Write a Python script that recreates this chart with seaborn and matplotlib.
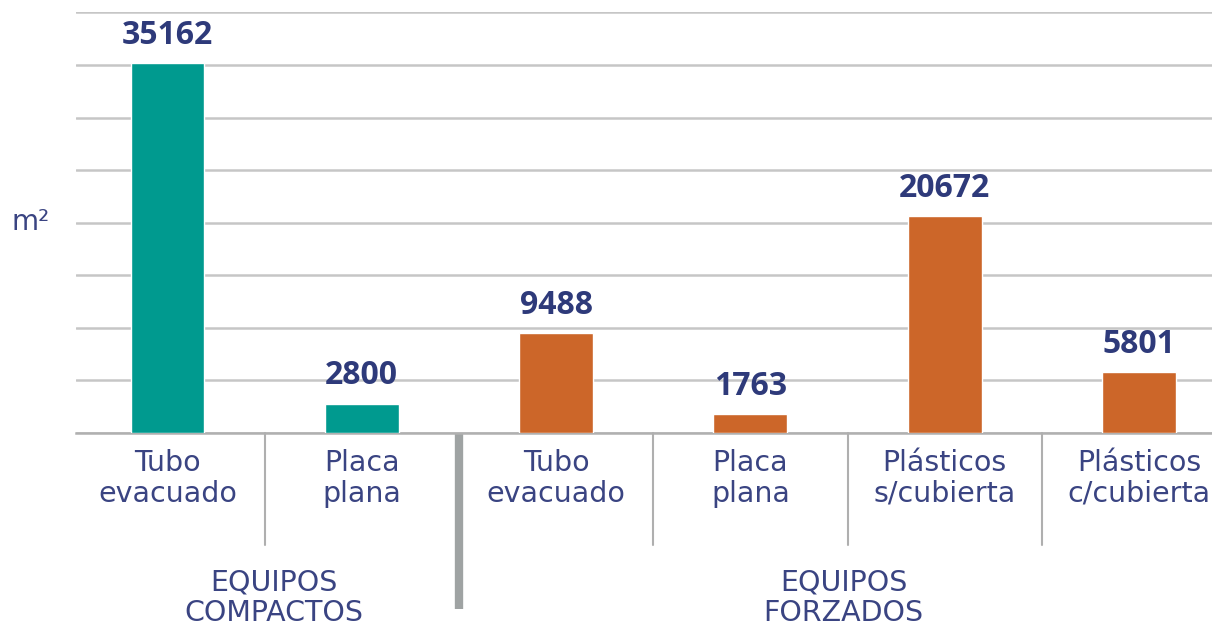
import matplotlib
matplotlib.use("Agg")
import matplotlib.pyplot as plt
import matplotlib.transforms as mtransforms
import seaborn as sns
import pandas as pd

# ---- data ----
categories = ["Tubo\nevacuado", "Placa\nplana", "Tubo\nevacuado", "Placa\nplana",
              "Plásticos\ns/cubierta", "Plásticos\nc/cubierta"]
values = [35162, 2800, 9488, 1763, 20672, 5801]
groups = ["EQUIPOS\nCOMPACTOS", "EQUIPOS\nCOMPACTOS", "EQUIPOS\nFORZADOS", "EQUIPOS\nFORZADOS",
          "EQUIPOS\nFORZADOS", "EQUIPOS\nFORZADOS"]
group_labels = ["EQUIPOS\nCOMPACTOS", "EQUIPOS\nFORZADOS"]
y_unit = "m²"

teal = "#009A8F"
orange = "#CC6629"
navy = "#2E3A7A"
label_col = "#3A4482"
grid_col = "#C6C6C6"

sns.set_theme(style="white")
plt.rcParams['font.family'] = ['DejaVu Sans']

W, H = 1212, 631
fig = plt.figure(figsize=(W / 100, H / 100), dpi=100)
ax_left, ax_right = 76, 1212
ax_top, ax_bottom = 12.5, 433
ax = fig.add_axes([ax_left / W, (H - ax_bottom) / H, (ax_right - ax_left) / W, (ax_bottom - ax_top) / H])

df = pd.DataFrame({"key": [f"c{i}" for i in range(len(values))],
                   "value": values, "group": groups})
sns.barplot(data=df, x="key", y="value", hue="group", dodge=False,
            palette={group_labels[0]: teal, group_labels[1]: orange},
            width=0.38, saturation=1, legend=False, ax=ax, zorder=3)

ax.set_xlim(-0.471, 5.376)
ax.set_ylim(0, 40000)
ax.set_yticks(range(0, 40001, 5000))
ax.set_yticklabels([])
ax.tick_params(left=False, bottom=False, labelbottom=False)
ax.yaxis.grid(True, color=grid_col, lw=1.8, zorder=0)
ax.xaxis.grid(False)
ax.set_xlabel("")
ax.set_ylabel("")
for s in ["top", "right", "left"]:
    ax.spines[s].set_visible(False)
ax.spines["bottom"].set_color("#B0B0B0")
ax.spines["bottom"].set_linewidth(1.8)
ax.set_facecolor("white")

# value labels
for i, v in enumerate(values):
    ax.annotate(f"{v}", (i, v), xytext=(0, 8), textcoords="offset points",
                ha="center", va="bottom", fontsize=23, fontweight="bold",
                color=navy, family=["Open Sans", "DejaVu Sans"])

trans = mtransforms.blended_transform_factory(ax.transData, ax.transAxes)
px = 1.0 / (ax_bottom - ax_top)

# category labels
for i, c in enumerate(categories):
    ax.text(i, -16 * px, c, transform=trans, ha="center", va="top",
            fontsize=20.5, color=label_col, linespacing=1.13)

# separators
for xs in [0.5, 2.5, 3.5, 4.5]:
    ax.plot([xs, xs], [0, -(545 - ax_bottom) * px], transform=trans,
            color="#AFAFAF", lw=1.5, clip_on=False, zorder=1)
ax.plot([1.5, 1.5], [0, -(609 - ax_bottom) * px], transform=trans,
        color="#9FA3A3", lw=6, clip_on=False, zorder=1, solid_capstyle="butt")

# group labels
ax.text(0.55, -(569 - ax_bottom) * px, group_labels[0], transform=trans, ha="center",
        va="top", fontsize=20.5, color=label_col, linespacing=1.08)
ax.text(3.48, -(569 - ax_bottom) * px, group_labels[1], transform=trans, ha="center",
        va="top", fontsize=20.5, color=label_col, linespacing=1.08)

# unit label
fig.text(31 / W, 1 - 222 / H, y_unit, ha="center", va="center", fontsize=20, color=label_col)

fig.savefig("out.png", dpi=100, facecolor="white")
